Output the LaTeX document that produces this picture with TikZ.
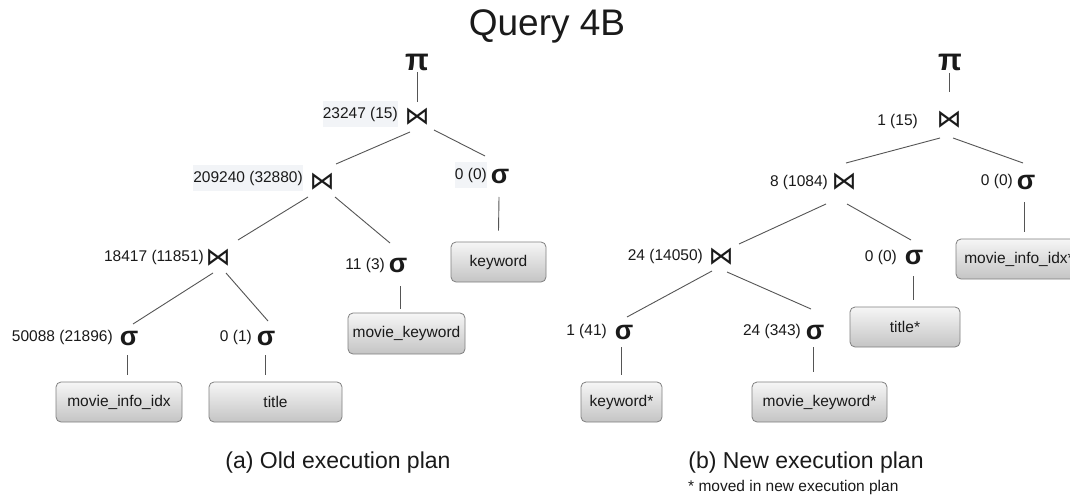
\documentclass[tikz,border=0pt]{standalone}
\usepackage{fontspec}
\setmainfont{Liberation Sans}
\newfontfamily\dejavu{DejaVu Sans}
\definecolor{edgecol}{RGB}{85,85,85}
\definecolor{boxline}{RGB}{128,128,128}
\definecolor{boxtop}{RGB}{246,246,246}
\definecolor{boxbot}{RGB}{196,196,196}
\definecolor{labbgcol}{RGB}{242,244,247}
\definecolor{txt}{RGB}{26,26,26}
\begin{document}
\begin{tikzpicture}[x=1pt,y=-1pt,
  lab/.style={text=txt,inner sep=0pt,font=\fontsize{15.5}{18}\selectfont,anchor=east},
  labbg/.style={lab,fill=labbgcol,minimum height=26pt},
  sig/.style={text=txt,inner sep=0pt,font=\fontsize{27}{30}\selectfont\bfseries},
  proj/.style={text=txt,inner sep=0pt,font=\fontsize{31}{34}\selectfont\bfseries},
  joinop/.style={text=txt,inner sep=0pt,font=\dejavu\fontsize{25}{28}\selectfont},
  tbl/.style={draw=boxline,line width=0.8pt,rounded corners=5pt,top color=boxtop,bottom color=boxbot,
    text=txt,inner sep=0pt,font=\fontsize{15.5}{18}\selectfont},
  conn/.style={draw=edgecol,line width=0.9pt},
  captxt/.style={text=txt,inner sep=0pt,font=\fontsize{23}{26}\selectfont}]
\clip (0,0) rectangle (1070,497);
\fill[white] (0,0) rectangle (1070,497);

% title
\node[text=txt,inner sep=0pt,font=\fontsize{37}{40}\selectfont] (ttl) at (547,26) {Query 4B};

% ---------- left tree ----------
\node[proj] (p1) at (417,62) {π};
\node[joinop] (j1) at (417,117) {⋈};
\node[joinop] (j2) at (322,182) {⋈};
\node[joinop] (j3) at (218,258) {⋈};
\node[sig] (sA) at (500,177) {σ};
\node[sig] (sB) at (398,265) {σ};
\node[sig] (sC) at (129,338) {σ};
\node[sig] (sD) at (266,338) {σ};

\node[labbg] (lj1) at (398,114) {23247 (15)};
\node[labbg] (lj2) at (303,178) {209240 (32880)};
\node[lab] (lj3) at (204,257) {18417 (11851)};
\node[labbg] (lsA) at (487,175) {0 (0)};
\node[lab] (lsB) at (385,265) {11 (3)};
\node[lab] (lsC) at (113,337) {50088 (21896)};
\node[lab] (lsD) at (252,337) {0 (1)};

\node[tbl,minimum width=95pt,minimum height=40pt] (kw) at (498.5,262) {keyword};
\node[tbl,minimum width=117pt,minimum height=41pt] (mk) at (406.5,333.5) {movie\_keyword};
\node[tbl,minimum width=126pt,minimum height=40pt] (mi) at (119,402) {movie\_info\_idx};
\node[tbl,minimum width=133pt,minimum height=40pt] (ti) at (275.5,402) {title};

\draw[conn] ([shift={(0,10)}]p1.center) -- ([shift={(0,-15)}]j1.center);
\draw[conn] ([shift={(-7,15)}]j1.center) -- ([shift={(14,-18)}]j2.center);
\draw[conn] ([shift={(17,13)}]j1.center) -- ([shift={(-15,-21)}]sA.center);
\draw[conn] ([shift={(-14,15)}]j2.center) -- ([shift={(20,-18)}]j3.center);
\draw[conn] ([shift={(13,15)}]j2.center) -- ([shift={(-8,-22)}]sB.center);
\draw[conn] ([shift={(-5,15)}]j3.center) -- ([shift={(4,-14)}]sC.center);
\draw[conn] ([shift={(8,15)}]j3.center) -- ([shift={(2,-17)}]sD.center);
\draw[conn] ([shift={(-1,20)}]sA.center) -- ([shift={(0,-11)}]kw.north);
\draw[conn] ([shift={(2,21)}]sB.center) -- ([shift={(-6.5,-4)}]mk.north);
\draw[conn] ([shift={(-2,17)}]sC.center) -- ([shift={(8,-7)}]mi.north);
\draw[conn] ([shift={(-1,17)}]sD.center) -- ([shift={(-10.5,-7)}]ti.north);

% ---------- right tree ----------
\node[proj] (p2) at (950,62) {π};
\node[joinop] (k1) at (949,120) {⋈};
\node[joinop] (k2) at (844,182) {⋈};
\node[joinop] (k3) at (721,257) {⋈};
\node[sig] (tA) at (1026,182) {σ};
\node[sig] (tB) at (914,257) {σ};
\node[sig] (tC) at (624,332) {σ};
\node[sig] (tD) at (815,332) {σ};

\node[lab] (lk1) at (918,121) {1 (15)};
\node[lab] (lk2) at (828,182) {8 (1084)};
\node[lab] (lk3) at (703,256) {24 (14050)};
\node[lab] (ltA) at (1013,181) {0 (0)};
\node[lab] (ltB) at (897,257) {0 (0)};
\node[lab] (ltC) at (607,331) {1 (41)};
\node[lab] (ltD) at (801,331) {24 (343)};

\node[tbl,minimum width=126pt,minimum height=40pt] (mi2) at (1019,259) {movie\_info\_idx*};
\node[tbl,minimum width=81pt,minimum height=40pt] (kw2) at (621.5,402) {keyword*};
\node[tbl,minimum width=135pt,minimum height=40pt] (mk2) at (819.5,402) {movie\_keyword*};
\node[tbl,minimum width=110pt,minimum height=40pt] (ti2) at (905,327) {title*};

\draw[conn] ([shift={(-1,11)}]p2.center) -- ([shift={(0,-28)}]k1.center);
\draw[conn] ([shift={(-9,18)}]k1.center) -- ([shift={(2,-19)}]k2.center);
\draw[conn] ([shift={(4,18)}]k1.center) -- ([shift={(-3,-19)}]tA.center);
\draw[conn] ([shift={(-18,22)}]k2.center) -- ([shift={(18,-13)}]k3.center);
\draw[conn] ([shift={(3,22)}]k2.center) -- ([shift={(-3,-17)}]tB.center);
\draw[conn] ([shift={(-9,14)}]k3.center) -- ([shift={(3,-15)}]tC.center);
\draw[conn] ([shift={(6,15)}]k3.center) -- ([shift={(-4,-23)}]tD.center);
\draw[conn] ([shift={(-2,20)}]tA.center) -- ([shift={(5,-7)}]mi2.north);
\draw[conn] ([shift={(-1,19)}]tB.center) -- ([shift={(8,-7)}]ti2.north);
\draw[conn] ([shift={(-3,15)}]tC.center) -- ([shift={(-0.5,-7)}]kw2.north);
\draw[conn] ([shift={(-2,15)}]tD.center) -- ([shift={(-6.5,-10)}]mk2.north);

% captions
\node[captxt] (capA) at (338,463) {(a) Old execution plan};
\node[captxt] (capB) at (806,463) {(b) New execution plan};
\node[text=txt,inner sep=0pt,anchor=west,font=\fontsize{15.5}{18}\selectfont] (note) at (688,487) {* moved in new execution plan};
\end{tikzpicture}
\end{document}
